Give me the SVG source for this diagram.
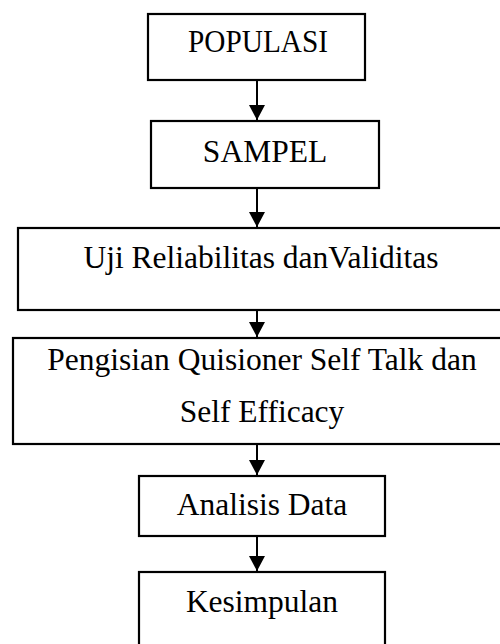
<svg xmlns="http://www.w3.org/2000/svg" width="500" height="644" viewBox="0 0 500 644">
<style>
.box{fill:#fff;stroke:#000;stroke-width:2.2}
.t{font-family:"Liberation Serif","Times New Roman",serif;font-size:31.5px;fill:#000;text-anchor:middle}
.c{stroke:#000;stroke-width:2;fill:none;marker-end:url(#ah)}
</style>
<defs>
<marker id="ah" markerUnits="userSpaceOnUse" markerWidth="16" markerHeight="16" viewBox="0 0 16 16" refX="15" refY="8" orient="auto">
<path d="M0,0 L15,8 L0,16 Z" fill="#000"/>
</marker>
</defs>
<g id="n1"><rect class="box" x="148" y="14" width="217" height="66"/><text class="t" x="258" y="52" textLength="140" lengthAdjust="spacingAndGlyphs">POPULASI</text></g>
<g id="n2"><rect class="box" x="151" y="121" width="228" height="67"/><text class="t" x="265" y="162">SAMPEL</text></g>
<g id="n3"><rect class="box" x="18" y="228" width="486" height="82"/><text class="t" x="261" y="268">Uji Reliabilitas danValiditas</text></g>
<g id="n4"><rect class="box" x="13" y="338" width="491" height="106"/><text class="t" x="262" y="370">Pengisian Quisioner Self Talk dan</text><text class="t" x="262" y="422">Self Efficacy</text></g>
<g id="n5"><rect class="box" x="139" y="476" width="246" height="60"/><text class="t" x="262" y="515">Analisis Data</text></g>
<g id="n6"><rect class="box" x="139" y="572" width="246" height="80"/><text class="t" x="262" y="612">Kesimpulan</text></g>
<g id="connectors">
<line class="c" x1="257" y1="81" x2="257" y2="120"/>
<line class="c" x1="257" y1="189" x2="257" y2="227"/>
<line class="c" x1="257" y1="311" x2="257" y2="337"/>
<line class="c" x1="257" y1="445" x2="257" y2="475"/>
<line class="c" x1="257" y1="537" x2="257" y2="571"/>
</g>
</svg>
